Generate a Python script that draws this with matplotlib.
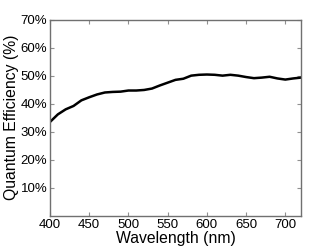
import matplotlib
matplotlib.use("Agg")
import matplotlib.pyplot as plt

# Quantum efficiency curve
wavelength = [400, 410, 420, 430, 440, 450, 460, 470, 480, 490, 500, 510, 520,
              530, 540, 550, 560, 570, 580, 590, 600, 610, 620, 630, 640, 650,
              660, 670, 680, 690, 700, 710, 720]
qe = [33.5, 36.2, 38.0, 39.2, 41.2, 42.3, 43.3, 44.0, 44.2, 44.3, 44.7, 44.7,
      44.9, 45.4, 46.5, 47.5, 48.5, 48.9, 50.0, 50.3, 50.4, 50.3, 50.0, 50.3,
      50.0, 49.5, 49.1, 49.3, 49.6, 49.0, 48.6, 49.0, 49.3]

xticks = [400, 450, 500, 550, 600, 650, 700]
yticks = [10, 20, 30, 40, 50, 60, 70]
ytick_labels = ["10%", "20%", "30%", "40%", "50%", "60%", "70%"]

plt.rcParams['font.family'] = ['Liberation Sans', 'DejaVu Sans']

fig = plt.figure(figsize=(3.32, 2.5), dpi=100)
ax = fig.add_axes([50 / 332, 34 / 250, 251 / 332, 196.5 / 250])

ax.plot(wavelength, qe, color='black', linewidth=1.8)

ax.set_xlim(400, 720)
ax.set_ylim(0, 70)
ax.set_xticks(xticks)
ax.set_yticks(yticks)
ax.set_yticklabels(ytick_labels)

for s in ax.spines.values():
    s.set_color('#707070')
    s.set_linewidth(1.0)
ax.tick_params(direction='in', length=3, width=0.8, color='#909090',
               labelsize=9.5, top=True, right=True, pad=2)

ax.set_xlabel('Wavelength (nm)', fontsize=11.3, labelpad=0)
ax.set_ylabel('Quantum Efficiency (%)', fontsize=11.3, labelpad=1)

fig.savefig('out.png', dpi=100)
